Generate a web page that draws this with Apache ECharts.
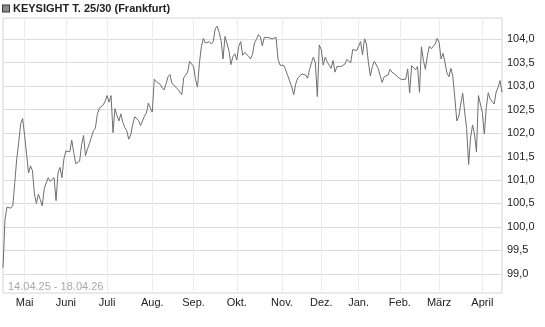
<!DOCTYPE html>
<html><head><meta charset="utf-8">
<script src="https://cdn.jsdelivr.net/npm/echarts@6/dist/echarts.min.js"></script>
<style>html,body{margin:0;padding:0;background:#fff}#c{width:545px;height:327px}</style>
</head><body><div id="c"></div>
<script>
const seriesName = 'KEYSIGHT T. 25/30 (Frankfurt)';
const dateRangeLabel = '14.04.25 - 18.04.26';
const monthNames = ['Jan.', 'Feb.', 'März', 'April', 'Mai', 'Juni', 'Juli', 'Aug.', 'Sep.', 'Okt.', 'Nov.', 'Dez.'];
const firstDay = '2025-04-14';
const lastDay = '2026-04-17';
const holidays = ['2025-04-18', '2025-04-21', '2025-05-01', '2025-12-24', '2025-12-25', '2025-12-26', '2025-12-31', '2026-01-01', '2026-04-03', '2026-04-06'];
const prices = [
  99.13, 100.15, 100.42, 100.43, 100.40, 100.45, 100.95, 101.45, 101.80, 102.20,
  102.31, 101.95, 101.55, 101.15, 101.30, 101.20, 100.70, 100.50, 100.70, 100.58,
  100.45, 100.82, 100.85, 101.05, 100.97, 101.00, 101.05, 100.56, 101.15, 101.27,
  101.05, 101.45, 101.62, 101.66, 101.60, 101.85, 101.59, 101.35, 101.36, 101.40,
  101.75, 101.95, 101.52, 101.66, 101.78, 101.91, 102.05, 102.10, 102.40, 102.53,
  102.56, 102.60, 102.68, 102.80, 102.66, 102.80, 102.01, 102.52, 102.38, 102.26,
  102.41, 102.23, 102.12, 102.05, 101.87, 101.96, 102.18, 102.35, 102.37, 102.27,
  102.16, 102.20, 102.36, 102.43, 102.64, 102.53, 102.45, 103.15, 103.10, 103.14,
  103.04, 102.97, 102.92, 103.05, 103.20, 103.25, 103.06, 103.08, 102.98, 102.93,
  102.92, 102.82, 103.18, 103.15, 103.30, 103.53, 103.50, 103.42, 103.15, 102.98,
  103.50, 103.85, 104.02, 103.92, 103.94, 103.95, 103.90, 103.95, 104.22, 104.28,
  104.15, 103.97, 103.58, 104.06, 104.05, 103.76, 103.46, 103.63, 103.69, 103.56,
  103.85, 103.95, 103.66, 103.72, 103.70, 103.64, 103.58, 103.68, 103.92, 104.00,
  104.10, 104.05, 103.86, 104.04, 104.06, 104.04, 104.02, 104.01, 104.04, 104.04,
  103.57, 103.45, 103.42, 103.44, 103.42, 103.22, 103.10, 102.98, 102.82, 103.05,
  103.17, 103.20, 103.26, 103.24, 103.24, 103.17, 103.35, 103.50, 103.62, 103.50,
  102.78, 103.88, 103.78, 103.45, 103.62, 103.52, 103.50, 103.38, 103.55, 103.30,
  103.42, 103.44, 103.42, 103.42, 103.47, 103.57, 103.58, 103.50, 103.78, 103.77,
  103.76, 103.85, 103.95, 103.67, 104.01, 103.90, 103.50, 103.22, 103.42, 103.53,
  103.55, 103.38, 103.22, 103.08, 103.20, 103.20, 103.24, 103.36, 103.30, 103.31,
  103.24, 103.19, 103.15, 103.14, 103.13, 103.15, 103.37, 102.86, 103.44, 103.44,
  103.35, 103.42, 102.87, 103.84, 103.55, 103.36, 103.65, 103.85, 103.80, 103.83,
  103.90, 104.02, 103.93, 103.58, 103.70, 103.50, 103.28, 103.20, 103.38, 103.20,
  102.75, 102.26, 102.35, 102.62, 102.85, 102.45, 102.10, 101.33, 101.90, 102.17,
  101.98, 101.60, 102.80, 102.84, 102.44, 101.98, 102.55, 102.86, 102.73, 102.70,
  102.62, 102.87, 102.98, 103.12, 102.87
];
const yLabelMin = 98.5, yLabelMax = 104.5, yLabelStep = 0.5;
const yDataMin = 98.591, yDataMax = 104.454;

// trading-day categories
const dates = [];
(function () {
  const d = new Date(firstDay + 'T00:00:00Z');
  const end = new Date(lastDay + 'T00:00:00Z');
  while (d <= end) {
    const s = d.toISOString().slice(0, 10);
    const wd = d.getUTCDay();
    if (wd !== 0 && wd !== 6 && holidays.indexOf(s) < 0) dates.push(s);
    d.setUTCDate(d.getUTCDate() + 1);
  }
})();
const isMonthStart = dates.map((s, i) => i > 0 && s.slice(5, 7) !== dates[i - 1].slice(5, 7));

const FONT = 'Liberation Sans, Arial, sans-serif';
const chart = echarts.init(document.getElementById('c'), null, { renderer: 'canvas' });
chart.setOption({
  animation: false,
  backgroundColor: '#fff',
  title: [
    {
      text: '{sq|}{t|' + seriesName + '}',
      left: 3, top: 2, padding: 0,
      textStyle: {
        rich: {
          sq: { width: 6, height: 6, backgroundColor: '#8c8c8c', borderColor: '#3a3a3a', borderWidth: 1 },
          t: { fontSize: 11, fontFamily: FONT, color: '#222', padding: [0, 0, 0, 4], lineHeight: 13 }
        }
      }
    },
    {
      text: dateRangeLabel,
      left: 8, top: 281, padding: 0,
      textStyle: { fontSize: 11, fontFamily: FONT, color: '#ada79f', fontWeight: 'normal' }
    }
  ],
  grid: [
    { left: 3, right: 43, top: 18, bottom: 34, show: true, borderColor: '#d4d4d4', borderWidth: 1, backgroundColor: 'transparent' },
    { left: 3, right: 43, top: 15.85, bottom: 29.75 }
  ],
  xAxis: [
    {
      gridIndex: 0, type: 'category', data: dates, boundaryGap: false,
      axisLine: { show: false }, axisTick: { show: false },
      axisLabel: {
        interval: (i) => isMonthStart[i],
        formatter: (v) => monthNames[parseInt(v.slice(5, 7), 10) - 1],
        margin: 4, fontSize: 11, fontFamily: FONT, color: '#222'
      },
      splitLine: { show: true, interval: (i) => isMonthStart[i], lineStyle: { color: '#ececec', width: 1 } }
    },
    { gridIndex: 1, type: 'value', show: false }
  ],
  yAxis: [
    { gridIndex: 0, type: 'value', min: yDataMin, max: yDataMax, show: false, splitLine: { show: false } },
    {
      gridIndex: 1, type: 'value', position: 'right', min: yLabelMin, max: yLabelMax, interval: yLabelStep,
      axisLine: { show: false }, axisTick: { show: false },
      axisLabel: {
        showMinLabel: false, showMaxLabel: false, margin: 5,
        fontSize: 11, fontFamily: FONT, color: '#222',
        formatter: (v) => v.toFixed(1).replace('.', ',')
      },
      splitLine: { show: true, showMinLine: false, showMaxLine: false, lineStyle: { color: '#dcdcdc', width: 1 } }
    }
  ],
  series: [
    {
      name: seriesName, type: 'line', xAxisIndex: 0, yAxisIndex: 0,
      data: prices, symbol: 'none', showSymbol: false,
      lineStyle: { color: '#6f6f6f', width: 1 }
    }
  ]
});
</script>
</body></html>
